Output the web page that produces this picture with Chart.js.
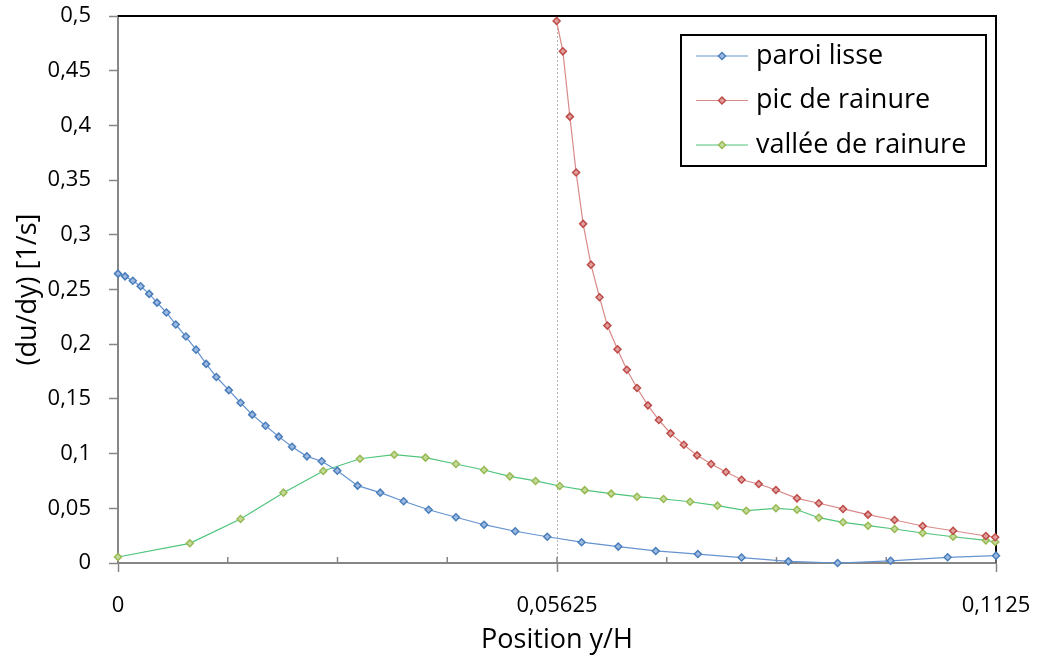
<!DOCTYPE html>
<html>
<head>
<meta charset="utf-8">
<script src="https://cdn.jsdelivr.net/npm/chart.js@4"></script>
<style>
  html, body { margin: 0; padding: 0; background: #fff; }
  canvas { display: block; }
</style>
</head>
<body>
<canvas id="gradChart" width="1038" height="657"></canvas>
<script>
// paroi lisse (blue)
const xParoi = [0, 0.0009, 0.0019, 0.0029, 0.0040, 0.0050, 0.0062, 0.0074, 0.0087, 0.0100,
  0.0113, 0.0126, 0.0142, 0.0157, 0.0172, 0.0189, 0.0206, 0.0223, 0.0242, 0.0261,
  0.0281, 0.0307, 0.0336, 0.0366, 0.0398, 0.0433, 0.0469, 0.0509, 0.0550, 0.0594,
  0.0641, 0.0689, 0.0743, 0.0799, 0.0859, 0.0922, 0.0990, 0.1063, 0.1125];
const yParoi = [0.2645, 0.262, 0.258, 0.253, 0.246, 0.238, 0.229, 0.218, 0.207, 0.195,
  0.182, 0.170, 0.158, 0.1465, 0.1356, 0.1255, 0.1155, 0.1063, 0.0975, 0.093,
  0.0844, 0.0707, 0.0643, 0.0564, 0.0487, 0.0418, 0.035, 0.029, 0.024, 0.019,
  0.015, 0.011, 0.0082, 0.005, 0.0015, 0.0, 0.002, 0.0052, 0.0067];

// pic de rainure (red)
const xPic = [0.0562, 0.0570, 0.0579, 0.0587, 0.0596, 0.0606, 0.0617, 0.0627, 0.0640, 0.0652,
  0.0665, 0.0679, 0.0693, 0.0708, 0.0725, 0.0742, 0.0760, 0.0779, 0.0799, 0.0821,
  0.0843, 0.0870, 0.0898, 0.0929, 0.0961, 0.0995, 0.1031, 0.1070, 0.1112, 0.1124];
const yPic = [0.4954, 0.4677, 0.408, 0.357, 0.310, 0.2727, 0.2429, 0.217, 0.1953, 0.1767,
  0.160, 0.1441, 0.1307, 0.1185, 0.1081, 0.0984, 0.0905, 0.0832, 0.0761, 0.0722,
  0.0667, 0.0591, 0.0546, 0.0494, 0.0442, 0.0393, 0.0338, 0.0295, 0.0247, 0.0235];

// vallee de rainure (green)
const xVallee = [0, 0.0092, 0.0157, 0.0212, 0.0263, 0.0310, 0.0354, 0.0394, 0.0433, 0.0469,
  0.0502, 0.0535, 0.0566, 0.0598, 0.0632, 0.0665, 0.0699, 0.0733, 0.0768, 0.0805,
  0.0843, 0.0870, 0.0898, 0.0929, 0.0961, 0.0995, 0.1031, 0.1070, 0.1112, 0.1124];
const yVallee = [0.0055, 0.018, 0.0402, 0.0643, 0.0841, 0.0953, 0.099, 0.0963, 0.0905, 0.085,
  0.0792, 0.075, 0.0704, 0.0666, 0.0634, 0.0606, 0.0585, 0.056, 0.0524, 0.0478,
  0.050, 0.0487, 0.0414, 0.0372, 0.0341, 0.0311, 0.0274, 0.024, 0.0207, 0.0192];

const xTickValues = [0, 0.0140625, 0.028125, 0.0421875, 0.05625, 0.0703125, 0.084375, 0.0984375, 0.1125];
const xTickLabels = ['0', '', '', '', '0,05625', '', '', '', '0,1125'];
const yTickValues = [0, 0.05, 0.1, 0.15, 0.2, 0.25, 0.3, 0.35, 0.4, 0.45, 0.5];
const yTickLabels = ['0', '0,05', '0,1', '0,15', '0,2', '0,25', '0,3', '0,35', '0,4', '0,45', '0,5'];

const FONT = "'Open Sans', 'Liberation Sans', sans-serif";
const AXIS_GREY = '#868686';

function pts(xs, ys) {
  return xs.map((x, i) => ({ x: x, y: ys[i] }));
}

// black frame on top/right of plot + small inner ticks on the x axis
const plotFrame = {
  id: 'plotFrame',
  beforeDatasetsDraw(chart) {
    const { ctx, chartArea: a } = chart;
    ctx.save();
    ctx.strokeStyle = '#000';
    ctx.lineWidth = 2;
    ctx.beginPath();
    ctx.moveTo(a.left, a.top);
    ctx.lineTo(a.right, a.top);
    ctx.lineTo(a.right, a.bottom);
    ctx.stroke();
    const xs = chart.scales.x;
    ctx.strokeStyle = AXIS_GREY;
    ctx.lineWidth = 1.5;
    xTickValues.forEach(v => {
      const px = xs.getPixelForValue(v);
      ctx.beginPath();
      ctx.moveTo(px, a.bottom);
      ctx.lineTo(px, a.bottom - 6);
      ctx.stroke();
    });
    ctx.restore();
  }
};

// Excel-like boxed legend inside the plot
const boxLegend = {
  id: 'boxLegend',
  afterDraw(chart) {
    const { ctx, chartArea: a } = chart;
    const left = a.right - 315, top = a.top + 19, w = 305, h = 131;
    ctx.save();
    ctx.fillStyle = '#fff';
    ctx.fillRect(left, top, w, h);
    ctx.strokeStyle = '#000';
    ctx.lineWidth = 2;
    ctx.strokeRect(left, top, w, h);
    ctx.font = '27px ' + FONT;
    ctx.textBaseline = 'middle';
    chart.data.datasets.forEach((ds, i) => {
      const y = top + 21 + i * 44.5;
      ctx.strokeStyle = ds.borderColor;
      ctx.lineWidth = 1.2;
      ctx.beginPath();
      ctx.moveTo(left + 15, y);
      ctx.lineTo(left + 67, y);
      ctx.stroke();
      const cx = left + 41, r = 3.5;
      ctx.beginPath();
      ctx.moveTo(cx - r, y);
      ctx.lineTo(cx, y - r);
      ctx.lineTo(cx + r, y);
      ctx.lineTo(cx, y + r);
      ctx.closePath();
      ctx.fillStyle = ds.pointBackgroundColor;
      ctx.fill();
      ctx.strokeStyle = ds.pointBorderColor;
      ctx.lineWidth = 1.5;
      ctx.stroke();
      ctx.fillStyle = '#000';
      ctx.fillText(ds.label, left + 75, y);
    });
    ctx.restore();
  }
};

const serie = (label, data, line, mark, fill) => ({
  label: label,
  data: data,
  borderColor: line,
  borderWidth: 1.2,
  pointStyle: 'rectRot',
  pointRadius: 3.5,
  pointBorderWidth: 1.5,
  pointBorderColor: mark,
  pointBackgroundColor: fill,
  tension: 0,
  clip: false
});

new Chart(document.getElementById('gradChart'), {
  type: 'line',
  data: {
    datasets: [
      serie('paroi lisse', pts(xParoi, yParoi), '#6593d0', '#4a7ebb', '#9dbbe2'),
      serie('pic de rainure', pts(xPic, yPic), '#d98a88', '#be4b48', '#e0a09e'),
      serie('vallée de rainure', pts(xVallee, yVallee), '#4fc47b', '#98b954', '#c4dc9a')
    ]
  },
  options: {
    responsive: false,
    animation: false,
    layout: { padding: { top: 16, right: 42, left: 0, bottom: 0 } },
    plugins: {
      legend: { display: false },
      tooltip: { enabled: false }
    },
    scales: {
      x: {
        type: 'linear',
        min: 0,
        max: 0.1125,
        afterBuildTicks: s => { s.ticks = xTickValues.map(v => ({ value: v })); },
        afterFit: s => {
          s.height = 94;
          s.paddingLeft = 0;
          s.paddingRight = 0;
        },
        grid: {
          color: c => (c.tick && c.tick.value === 0.05625) ? '#b4b4b4' : 'rgba(0,0,0,0)',
          lineWidth: 1,
          tickColor: c => xTickLabels[c.index] ? AXIS_GREY : 'rgba(0,0,0,0)',
          tickLength: 9,
          tickWidth: 1.5
        },
        border: { color: AXIS_GREY, width: 2, dash: [2, 2] },
        ticks: {
          autoSkip: false,
          maxRotation: 0,
          padding: 21,
          color: '#000',
          font: { family: FONT, size: 22 },
          callback: (v, i) => xTickLabels[i]
        },
        title: {
          display: true,
          text: 'Position y/H',
          color: '#000',
          font: { family: FONT, size: 27 },
          padding: { top: 0, bottom: 0 }
        }
      },
      y: {
        min: 0,
        max: 0.5,
        afterBuildTicks: s => { s.ticks = yTickValues.map(v => ({ value: v })); },
        afterFit: s => {
          s.width = 118;
          s.paddingTop = 0;
          s.paddingBottom = 0;
        },
        grid: {
          drawOnChartArea: false,
          tickLength: 9,
          tickColor: AXIS_GREY,
          tickWidth: 1.5
        },
        border: { color: AXIS_GREY, width: 2 },
        ticks: {
          padding: 18,
          color: '#000',
          font: { family: FONT, size: 22 },
          callback: (v, i) => yTickLabels[i]
        },
        title: {
          display: true,
          text: '(du/dy) [1/s]',
          color: '#000',
          font: { family: FONT, size: 27 },
          padding: { top: 12, bottom: 0 }
        }
      }
    }
  },
  plugins: [plotFrame, boxLegend]
});
</script>
</body>
</html>
